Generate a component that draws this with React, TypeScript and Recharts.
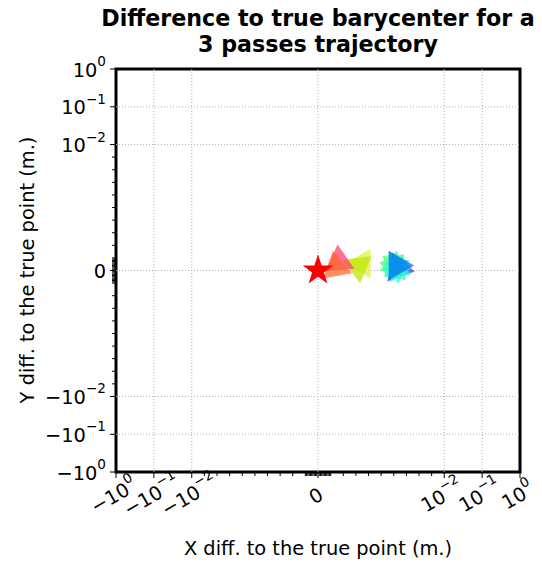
import React from 'react';
import { ScatterChart, Scatter, XAxis, YAxis, ReferenceLine, ReferenceArea, Customized } from 'recharts';

// difference to the true barycenter, one row per estimate (m.)
const xDiff = [0.00635, 0.00603, 0.00627, 0.00627, 0.00349, 0.00317, 0.00167, 0.00143, 0];
const yDiff = [0.00016, 0.0004, 0.00016, 0.0004, 0.00056, 0.00032, 0.00071, 0.00024, 0];
const markerKind = ['tri', 'star12', 'star12', 'tri', 'tri', 'tri', 'tri', 'tri', 'star5'];
const markerColor = ['#3a3cff', '#3cff6a', '#2cffd6', '#0066ff', '#e4ef3c', '#bce600', '#ff3c6e', '#ff6428', '#ff0000'];
const markerAngle = [100, 10, 25, 90, 150, 173, -5, 110, 0];

const majorTicks = [-1, -0.1, -0.01, 0, 0.01, 0.1, 1];
const majorLabels = [['−10', '0'], ['−10', '−1'], ['−10', '−2'], ['0', ''], ['10', '−2'], ['10', '−1'], ['10', '0']];

const LINTHRESH = 0.01;
const LINSCALE = 3 / (1 - 1 / 10);
const symlog = (v: number) => {
  const a = Math.abs(v);
  if (a <= LINTHRESH) return (v / LINTHRESH) * LINSCALE;
  return Math.sign(v) * (LINSCALE + Math.log10(a / LINTHRESH));
};
const D = symlog(1);

// minor ticks: linear steps inside the threshold, crowded ones near zero
const minorTicks: number[] = [];
[0.001, 0.0001].forEach((step) => {
  for (let k = 1; k <= 9; k++) {
    minorTicks.push(k * step, -k * step);
  }
});

const majorT = majorTicks.map(symlog);
const allTicks = [...majorT, ...minorTicks.map(symlog)].sort((a, b) => a - b);
const gridT = majorT.filter((t) => Math.abs(t) < D - 1e-9);

const labelFor = (t: number) => {
  const i = majorT.findIndex((m) => Math.abs(m - t) < 1e-9);
  return i >= 0 ? majorLabels[i] : null;
};

const data = xDiff.map((x, i) => ({ x: symlog(x), y: symlog(yDiff[i]), i }));

const polygon = (cx: number, cy: number, n: number, rOut: number, rIn: number, ang: number) => {
  const pts: string[] = [];
  const step = Math.PI / n;
  for (let k = 0; k < 2 * n; k++) {
    const r = k % 2 === 0 ? rOut : rIn;
    const a = -Math.PI / 2 + k * step + (ang * Math.PI) / 180;
    pts.push(`${cx + r * Math.cos(a)},${cy + r * Math.sin(a)}`);
  }
  return pts.join(' ');
};

const MarkerShape = (props: any) => {
  const { cx, cy, payload } = props;
  const i = payload.i;
  const kind = markerKind[i];
  const color = markerColor[i];
  if (kind === 'star5') {
    return <polygon points={polygon(cx, cy, 5, 16, 6.2, markerAngle[i])} fill={color} />;
  }
  if (kind === 'star12') {
    return <polygon points={polygon(cx, cy, 12, 15, 11, markerAngle[i])} fill={color} fillOpacity={0.75} />;
  }
  const pts: string[] = [];
  for (let k = 0; k < 3; k++) {
    const a = -Math.PI / 2 + (k * 2 * Math.PI) / 3 + (markerAngle[i] * Math.PI) / 180;
    pts.push(`${cx + 17 * Math.cos(a)},${cy + 17 * Math.sin(a)}`);
  }
  return <polygon points={pts.join(' ')} fill={color} fillOpacity={0.72} />;
};

const YTick = (props: any) => {
  const { x, y, payload } = props;
  const lab = labelFor(payload.value);
  return (
    <g>
      <line x1={x} x2={x - (lab ? 6 : 4)} y1={y} y2={y} stroke="#000" strokeWidth={1} />
      {lab && (
        <text x={x - 10} y={y + 1} textAnchor="end" dominantBaseline="central" fontSize={19.4} fill="#000" fontFamily="DejaVu Sans">
          {lab[0]}
          {lab[1] && <tspan dy={-9} fontSize={13.6}>{lab[1]}</tspan>}
        </text>
      )}
    </g>
  );
};

const XTick = (props: any) => {
  const { x, y, payload } = props;
  const lab = labelFor(payload.value);
  const cx = x - 2;
  const cy = y + 24;
  return (
    <g>
      <line x1={x} x2={x} y1={y} y2={y + (lab ? 6 : 4)} stroke="#000" strokeWidth={1} />
      {lab && (
        <text x={cx} y={cy} textAnchor="middle" dominantBaseline="central" fontSize={19.4} fill="#000" fontFamily="DejaVu Sans" transform={`rotate(-30 ${cx} ${cy})`}>
          {lab[0]}
          {lab[1] && <tspan dy={-9} fontSize={13.6}>{lab[1]}</tspan>}
        </text>
      )}
    </g>
  );
};

const Titles = () => (
  <g fontFamily="DejaVu Sans" fill="#000">
    <text x={318} y={26} textAnchor="middle" fontSize={22.2} fontWeight="bold">Difference to true barycenter for a</text>
    <text x={318} y={52} textAnchor="middle" fontSize={22.2} fontWeight="bold">3 passes trajectory</text>
    <text x={318} y={555} textAnchor="middle" fontSize={19.4}>X diff. to the true point (m.)</text>
    <text x={34} y={270} textAnchor="middle" fontSize={19.4} transform="rotate(-90 34 270)">Y diff. to the true point (m.)</text>
  </g>
);

export default function App() {
  return (
    <div style={{ position: 'absolute', left: 0, top: 0, background: '#fff' }}>
      <ScatterChart width={542} height={562} margin={{ top: 69, right: 22, bottom: 0, left: 0 }}>
        <XAxis type="number" dataKey="x" domain={[-D, D]} ticks={allTicks} interval={0} tick={<XTick />} tickLine={false} axisLine={false} tickSize={0} tickMargin={0} height={90} allowDataOverflow />
        <YAxis type="number" dataKey="y" domain={[-D, D]} ticks={allTicks} interval={0} tick={<YTick />} tickLine={false} axisLine={false} tickSize={0} tickMargin={0} width={116} allowDataOverflow />
        {gridT.map((t) => (
          <ReferenceLine key={`vx${t}`} x={t} stroke="#b0b0b0" strokeWidth={1} strokeDasharray="1 2" />
        ))}
        {gridT.map((t) => (
          <ReferenceLine key={`hy${t}`} y={t} stroke="#b0b0b0" strokeWidth={1} strokeDasharray="1 2" />
        ))}
        <Scatter data={data} shape={<MarkerShape />} isAnimationActive={false} />
        <ReferenceArea x1={-D} x2={D} y1={-D} y2={D} fill="none" fillOpacity={0} stroke="#000" strokeWidth={3} ifOverflow="visible" />
        <Customized component={Titles} />
      </ScatterChart>
    </div>
  );
}
